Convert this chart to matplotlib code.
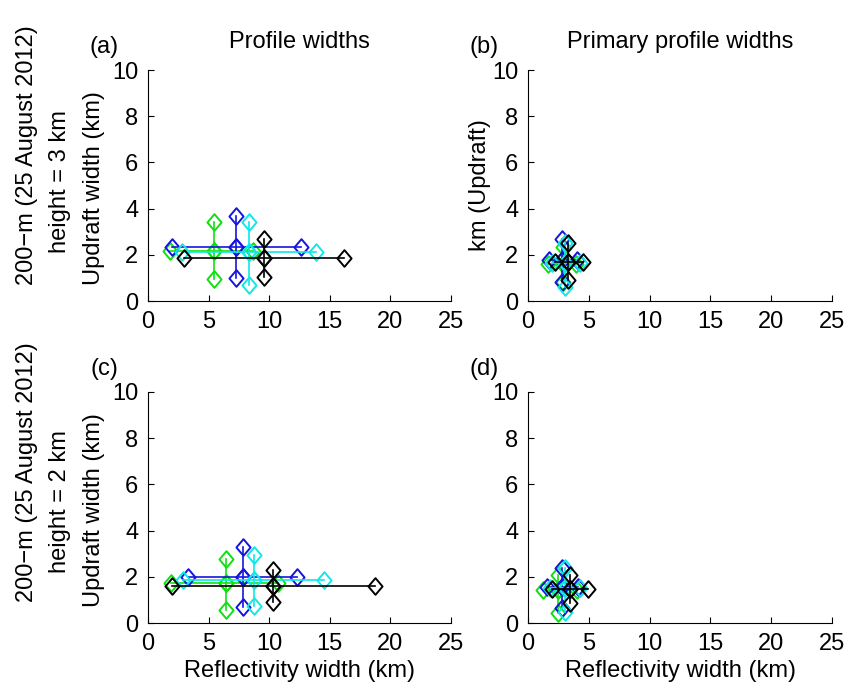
import matplotlib.pyplot as plt
from matplotlib.path import Path

plt.rcParams['font.family'] = ['Liberation Sans', 'DejaVu Sans']

colors = ['#10e010', '#1515dd', '#10e8e8', '#000000']

# each series: [left, center, right] reflectivity widths, [bottom, center, top] updraft widths
# panel (a) profile widths, 3 km
a_x = [[1.8, 5.45, 8.7], [2.0, 7.3, 12.6], [2.8, 8.36, 13.9], [3.0, 9.57, 16.2]]
a_y = [[0.95, 2.16, 3.4], [0.98, 2.35, 3.68], [0.69, 2.13, 3.43], [1.03, 1.88, 2.67]]
# panel (b) primary profile widths, 3 km
b_x = [[1.67, 2.9, 3.95], [1.75, 2.77, 4.0], [1.95, 3.04, 4.3], [2.2, 3.3, 4.55]]
b_y = [[0.84, 1.6, 2.35], [0.84, 1.77, 2.67], [0.6, 1.66, 2.5], [0.9, 1.7, 2.5]]
# panel (c) profile widths, 2 km
c_x = [[1.87, 6.41, 10.75], [3.27, 7.81, 12.27], [2.86, 8.77, 14.5], [1.95, 10.34, 18.7]]
c_y = [[0.56, 1.72, 2.76], [0.68, 1.98, 3.28], [0.74, 1.85, 2.94], [0.92, 1.6, 2.29]]
# panel (d) primary profile widths, 2 km
d_x = [[1.26, 2.5, 4.0], [1.59, 2.77, 4.14], [1.81, 3.04, 4.28], [1.95, 3.45, 4.96]]
d_y = [[0.42, 1.43, 2.08], [0.64, 1.57, 2.37], [0.49, 1.5, 2.37], [0.85, 1.46, 2.08]]

fs = 17

# matlab style diamond, a little taller than wide
diamond = Path([(0, 1), (0.85, 0), (0, -1), (-0.85, 0), (0, 1)], closed=True)

fig = plt.figure(figsize=(8.46, 6.85), dpi=100)
W, H = 846.0, 685.0


def make_ax(left, top, right, bottom):
    return fig.add_axes([left / W, 1 - bottom / H, (right - left) / W, (bottom - top) / H])


ax_a = make_ax(148, 70, 451, 301)
ax_b = make_ax(528, 70, 832, 301)
ax_c = make_ax(148, 392, 451, 623)
ax_d = make_ax(528, 392, 832, 623)

panels = [(ax_a, a_x, a_y), (ax_b, b_x, b_y), (ax_c, c_x, c_y), (ax_d, d_x, d_y)]

for ax, xs, ys in panels:
    for col, xv, yv in zip(colors, xs, ys):
        # horizontal arm at center updraft width
        ax.plot(xv, [yv[1]] * 3, '-', marker=diamond, color=col, lw=1.2, ms=12,
                mfc='none', mew=1.4)
        # vertical arm at center reflectivity width
        ax.plot([xv[1]] * 3, yv, '-', marker=diamond, color=col, lw=1.2, ms=12,
                mfc='none', mew=1.4)
    ax.set_xlim(0, 25)
    ax.set_ylim(0, 10)
    ax.set_xticks([0, 5, 10, 15, 20, 25])
    ax.set_yticks([0, 2, 4, 6, 8, 10])
    ax.spines['top'].set_visible(False)
    ax.spines['right'].set_visible(False)
    ax.tick_params(direction='in', length=4, labelsize=fs, pad=7)

# titles and panel letters
ax_a.text(0.5, 1.121, 'Profile widths', transform=ax_a.transAxes,
          ha='center', va='center', fontsize=fs)
ax_b.text(0.5, 1.121, 'Primary profile widths', transform=ax_b.transAxes,
          ha='center', va='center', fontsize=fs)
for ax, lab in [(ax_a, '(a)'), (ax_b, '(b)'), (ax_c, '(c)'), (ax_d, '(d)')]:
    ax.text(-0.145, 1.10, lab, transform=ax.transAxes,
            ha='center', va='center', fontsize=fs)

# y labels
fig.text(27 / W, 1 - 155 / H, '200\u2212m (25 August 2012)', rotation=90,
         ha='center', va='center', fontsize=fs)
fig.text(60 / W, 1 - 182 / H, 'height = 3 km', rotation=90,
         ha='center', va='center', fontsize=fs)
fig.text(94 / W, 1 - 188 / H, 'Updraft width (km)', rotation=90,
         ha='center', va='center', fontsize=fs)
fig.text(27 / W, 1 - 472 / H, '200\u2212m (25 August 2012)', rotation=90,
         ha='center', va='center', fontsize=fs)
fig.text(60 / W, 1 - 502 / H, 'height = 2 km', rotation=90,
         ha='center', va='center', fontsize=fs)
fig.text(94 / W, 1 - 510 / H, 'Updraft width (km)', rotation=90,
         ha='center', va='center', fontsize=fs)
fig.text(480 / W, 1 - 185 / H, 'km (Updraft)', rotation=90,
         ha='center', va='center', fontsize=fs)

# x labels
ax_c.set_xlabel('Reflectivity width (km)', fontsize=fs, labelpad=4)
ax_d.set_xlabel('Reflectivity width (km)', fontsize=fs, labelpad=4)

fig.savefig('out.png', dpi=100)
